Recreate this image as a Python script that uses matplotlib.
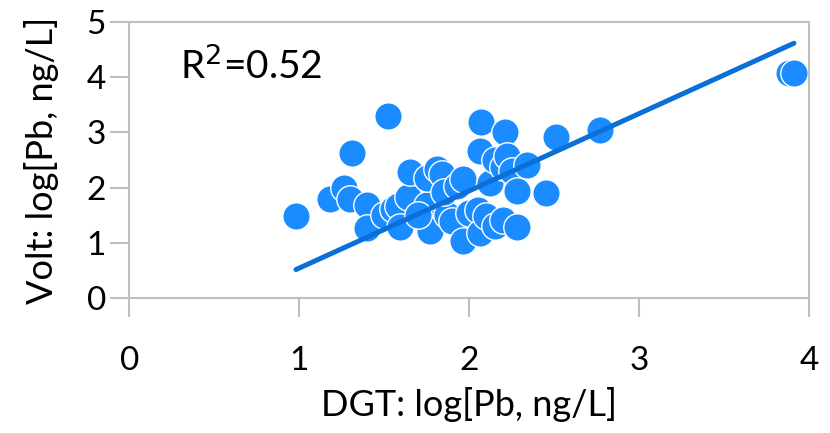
import matplotlib
matplotlib.use("Agg")
import matplotlib.pyplot as plt

# DGT vs Volt, log[Pb, ng/L]
dgt = [0.98, 1.18, 1.26, 1.30, 1.31, 1.40, 1.40, 1.52, 1.50, 1.55, 1.58, 1.59,
       1.64, 1.65, 1.75, 1.75, 1.76, 1.77, 1.70, 1.81, 1.84, 1.87, 1.85, 1.93,
       1.90, 1.96, 1.96, 2.00, 2.05, 2.06, 2.06, 2.07, 2.10, 2.12, 2.15, 2.15,
       2.20, 2.21, 2.20, 2.22, 2.25, 2.28, 2.28, 2.34, 2.45, 2.51, 2.77, 3.88,
       3.91]
volt = [1.49, 1.80, 1.99, 1.80, 2.62, 1.69, 1.27, 3.30, 1.51, 1.62, 1.66, 1.29,
        1.84, 2.28, 1.68, 2.17, 1.36, 1.22, 1.50, 2.33, 2.25, 1.51, 1.93, 2.03,
        1.40, 2.15, 1.03, 1.54, 1.60, 1.18, 2.66, 3.19, 1.48, 2.08, 2.50, 1.30,
        1.42, 3.01, 2.38, 2.58, 2.30, 1.29, 1.94, 2.41, 1.91, 2.91, 3.04, 4.08,
        4.07]

# linear trendline as drawn (end points)
trend_x = [0.98, 3.91]
trend_y = [0.52, 4.61]
r2_text = "R$^2$=0.52"

plt.rcParams["font.family"] = ["Lato", "DejaVu Sans"]

fig = plt.figure(figsize=(8.3, 4.33), dpi=100)
ax = fig.add_axes((0.156, 0.311, 0.819, 0.639))

ax.scatter(dgt, volt, s=390, color="#1a8cff", edgecolors="white",
           linewidths=1.0, zorder=2)
ax.plot(trend_x, trend_y, color="#0a6fd6", linewidth=3.6,
        solid_capstyle="round", zorder=3)

ax.set_xlim(0, 4)
ax.set_ylim(0, 5)
ax.set_xticks([0, 1, 2, 3, 4])
ax.set_yticks([0, 1, 2, 3, 4, 5])

for side in ["left", "bottom", "top", "right"]:
    ax.spines[side].set_color("#bfbfbf")
    ax.spines[side].set_linewidth(1.5)
ax.tick_params(direction="out", length=14, width=1.5, color="#bfbfbf",
               labelsize=24, labelcolor="black", pad=20)
ax.tick_params(axis="y", pad=3)

ax.set_xlabel("DGT: log[Pb, ng/L]", fontsize=26, labelpad=8)
ax.set_ylabel("Volt: log[Pb, ng/L]", fontsize=26, labelpad=20)

ax.text(0.075, 0.84, r2_text, transform=ax.transAxes, fontsize=28,
        va="center", ha="left")

fig.savefig("out.png", dpi=100)
